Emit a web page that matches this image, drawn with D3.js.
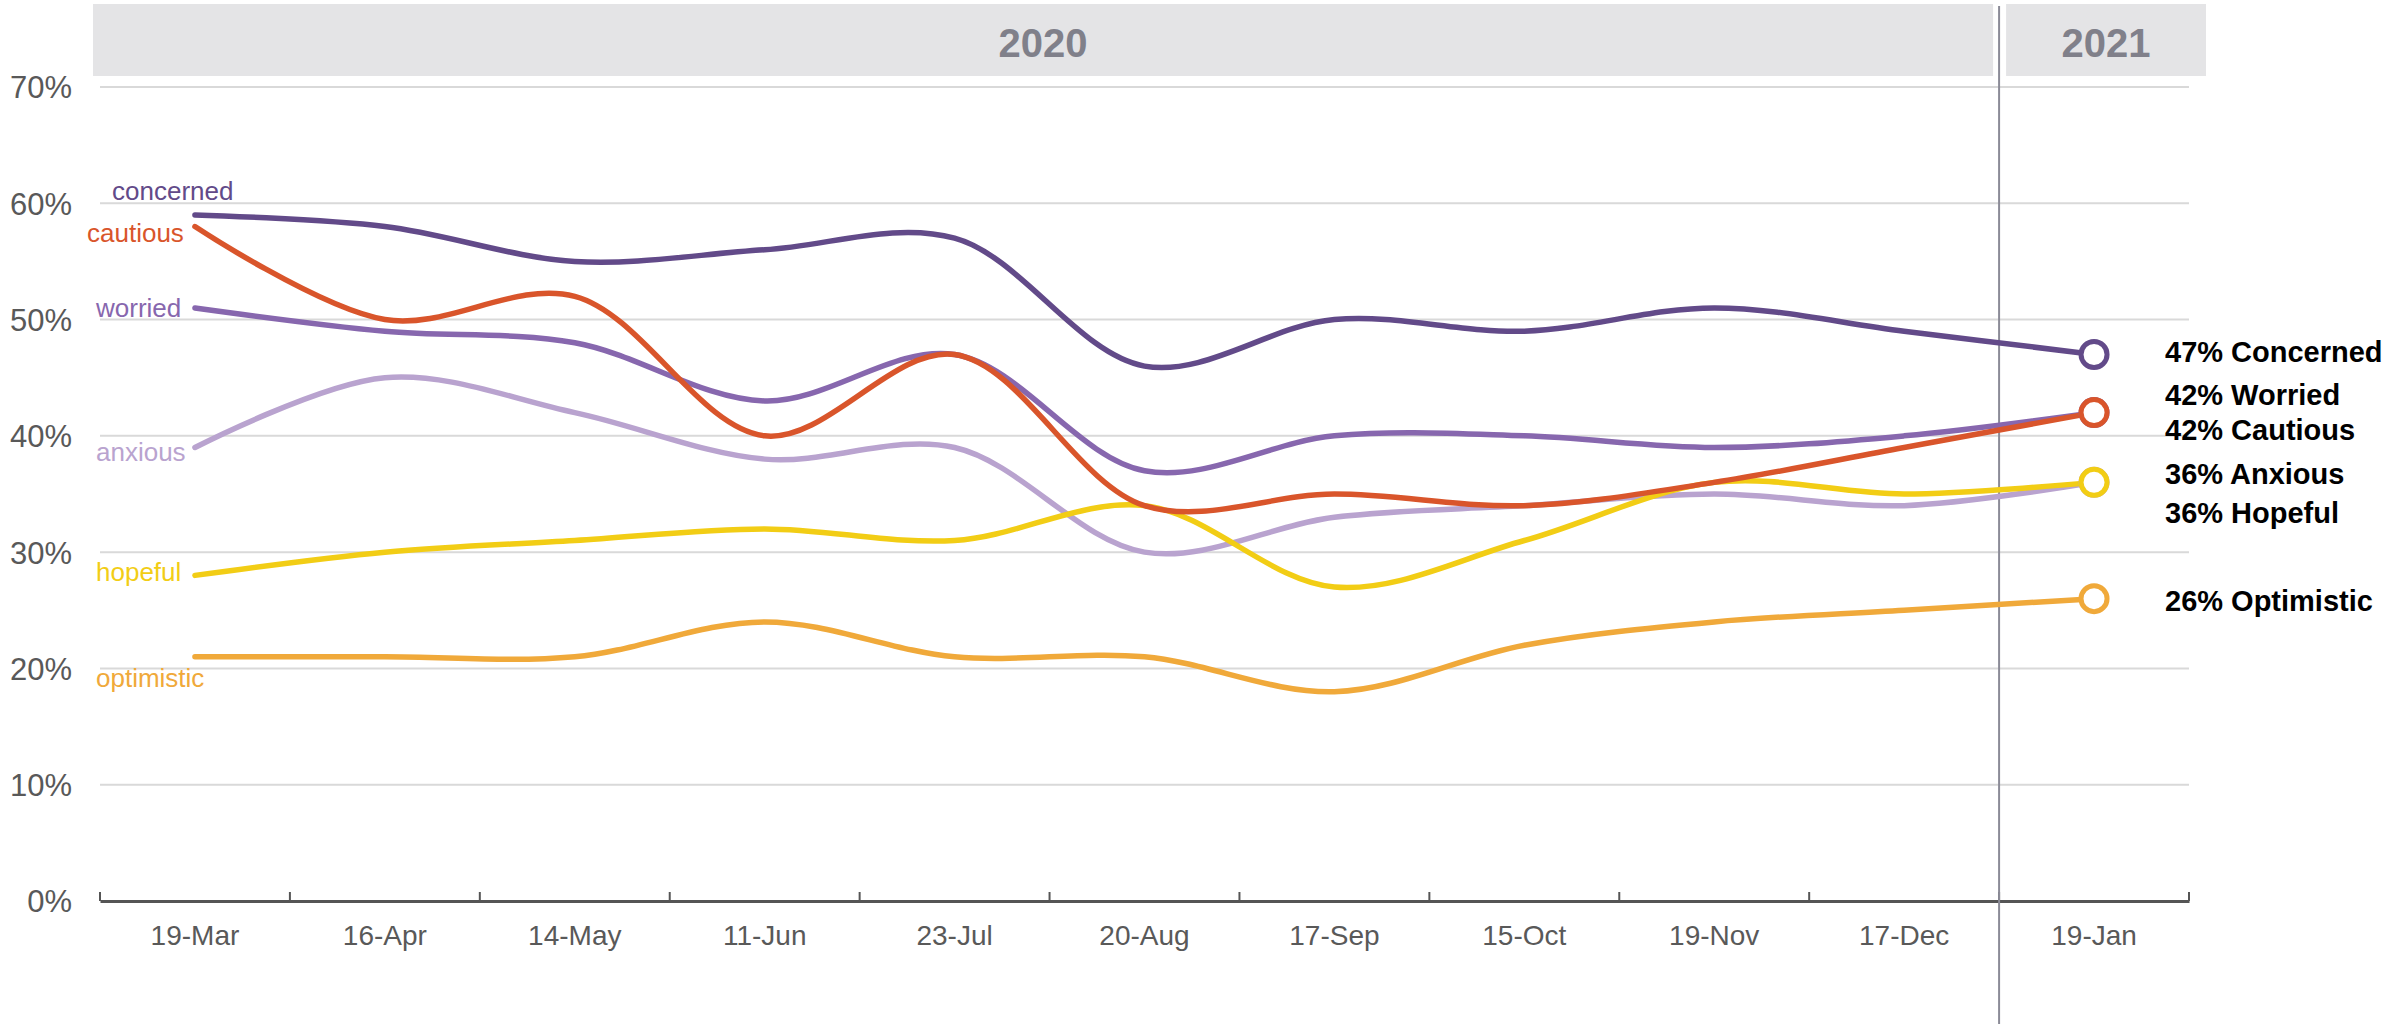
<!DOCTYPE html>
<html>
<head>
<meta charset="utf-8">
<script src="https://cdn.jsdelivr.net/npm/d3@7"></script>
<style>
  body { margin: 0; background: #fff; }
  svg { display: block; font-family: "Liberation Sans", Arial, sans-serif; }
</style>
</head>
<body>
<svg id="chart" width="2385" height="1024"></svg>
<script>
// survey waves
var waves = ["19-Mar", "16-Apr", "14-May", "11-Jun", "23-Jul", "20-Aug", "17-Sep", "15-Oct", "19-Nov", "17-Dec", "19-Jan"];

// share of respondents (%) per wave
var concerned  = [59, 58, 55, 56, 57, 46, 50, 49, 51, 49, 47];
var cautious   = [58, 50, 52, 40, 47, 34, 35, 34, 36, 39, 42];
var worried    = [51, 49, 48, 43, 47, 37, 40, 40, 39, 40, 42];
var anxious    = [39, 45, 42, 38, 39, 30, 33, 34, 35, 34, 36];
var hopeful    = [28, 30, 31, 32, 31, 34, 27, 31, 36, 35, 36];
var optimistic = [21, 21, 21, 24, 21, 21, 18, 22, 24, 25, 26];

var yTicks = [0, 10, 20, 30, 40, 50, 60, 70];

var years = [
    {label: "2020", from: "19-Mar", to: "17-Dec"},
    {label: "2021", from: "19-Jan", to: "19-Jan"}
];

var series = [
    {name: "concerned",  end: "Concerned",  values: concerned,  color: "#624a89"},
    {name: "cautious",   end: "Cautious",   values: cautious,   color: "#d9552b"},
    {name: "worried",    end: "Worried",    values: worried,    color: "#8767ae"},
    {name: "anxious",    end: "Anxious",    values: anxious,    color: "#b9a3cf"},
    {name: "hopeful",    end: "Hopeful",    values: hopeful,    color: "#f2cd15"},
    {name: "optimistic", end: "Optimistic", values: optimistic, color: "#f0a93a"}
];

// paint order, bottom first
var drawOrder = ["optimistic", "anxious", "hopeful", "worried", "cautious", "concerned"];

// where the small start labels sit (x, baseline offset from first point)
var startLabelPos = {
    concerned: [112, -15], cautious: [87, 15], worried: [96, 9],
    anxious: [96, 14], hopeful: [96, 6], optimistic: [96, 30]
};
// baselines of the end labels
var endLabelY = {
    concerned: 362, worried: 405, cautious: 440, anxious: 484, hopeful: 523, optimistic: 611
};

var svg = d3.select("#chart");
var m = {left: 100, right: 2189, top: 87, bottom: 901};

var x = d3.scaleBand().domain(waves).range([m.left, m.right]).paddingInner(0).paddingOuter(0);
var y = d3.scaleLinear().domain([0, 70]).range([m.bottom, m.top]);
var cx = function (d) { return x(d) + x.bandwidth() / 2; };

// year header bands
var hdr = svg.append("g");
years.forEach(function (yr, i) {
    var x0 = x(yr.from) + (i === 0 ? -7 : 7);
    var x1 = x(yr.to) + x.bandwidth() + (i === 0 ? -6 : 17);
    hdr.append("rect")
        .attr("x", x0).attr("y", 4)
        .attr("width", x1 - x0).attr("height", 72)
        .attr("fill", "#e4e4e6");
    hdr.append("text")
        .attr("x", (x0 + x1) / 2).attr("y", 57)
        .attr("text-anchor", "middle")
        .attr("font-size", 40).attr("font-weight", "bold")
        .attr("fill", "#80808a")
        .text(yr.label);
});

// gridlines
svg.append("g")
    .selectAll("line")
    .data(yTicks.filter(function (t) { return t > 0; }))
    .enter().append("line")
    .attr("x1", m.left).attr("x2", m.right)
    .attr("y1", function (d) { return y(d); })
    .attr("y2", function (d) { return y(d); })
    .attr("stroke", "#d9d9d9").attr("stroke-width", 2);

// y axis labels
var yAxis = svg.append("g")
    .attr("transform", "translate(" + (m.left - 28) + ",0)")
    .call(d3.axisLeft(y).tickValues(yTicks).tickSize(0).tickPadding(0)
        .tickFormat(function (d) { return d + "%"; }));
yAxis.select(".domain").remove();
yAxis.selectAll("text")
    .attr("font-size", 31).attr("fill", "#595959")
    .attr("font-family", "Liberation Sans, Arial, sans-serif")
    .attr("dy", "0.35em");

// x axis
var xAxis = svg.append("g")
    .attr("transform", "translate(0," + m.bottom + ")")
    .call(d3.axisBottom(x).tickSize(0).tickPadding(24));
xAxis.select(".domain").attr("stroke", "#555").attr("stroke-width", 3);
xAxis.selectAll("text")
    .attr("font-size", 28).attr("fill", "#595959")
    .attr("font-family", "Liberation Sans, Arial, sans-serif");
// tick marks between categories
xAxis.append("g")
    .selectAll("line")
    .data(waves.concat(["end"]))
    .enter().append("line")
    .attr("x1", function (d, i) { return i < waves.length ? x(d) : m.right; })
    .attr("x2", function (d, i) { return i < waves.length ? x(d) : m.right; })
    .attr("y1", 0).attr("y2", -9)
    .attr("stroke", "#555").attr("stroke-width", 2);

// divider between years
var divX = x("19-Jan");
svg.append("line")
    .attr("x1", divX).attr("x2", divX)
    .attr("y1", 6).attr("y2", 1024)
    .attr("stroke", "#8b8b97").attr("stroke-width", 2);

// lines
var line = d3.line()
    .x(function (d, i) { return cx(waves[i]); })
    .y(function (d) { return y(d); })
    .curve(d3.curveCatmullRom.alpha(0.5));

var ordered = drawOrder.map(function (n) {
    return series.find(function (s) { return s.name === n; });
});

var lines = svg.append("g");
ordered.forEach(function (s) {
    lines.append("path")
        .datum(s.values)
        .attr("d", line)
        .attr("fill", "none")
        .attr("stroke", s.color)
        .attr("stroke-width", 5.5)
        .attr("stroke-linecap", "round");
});

// end circles
ordered.forEach(function (s) {
    var last = s.values.length - 1;
    lines.append("circle")
        .attr("cx", cx(waves[last]))
        .attr("cy", y(s.values[last]))
        .attr("r", 13)
        .attr("fill", "#fff")
        .attr("stroke", s.color)
        .attr("stroke-width", 5);
});

// start labels
series.forEach(function (s) {
    var p = startLabelPos[s.name];
    svg.append("text")
        .attr("x", p[0])
        .attr("y", y(s.values[0]) + p[1])
        .attr("font-size", 26)
        .attr("fill", s.color)
        .text(s.name);
});

// end labels
series.forEach(function (s) {
    var v = s.values[s.values.length - 1];
    svg.append("text")
        .attr("x", 2165)
        .attr("y", endLabelY[s.name])
        .attr("font-size", 29).attr("font-weight", "bold")
        .attr("fill", "#000")
        .text(v + "% " + s.end);
});
</script>
</body>
</html>
